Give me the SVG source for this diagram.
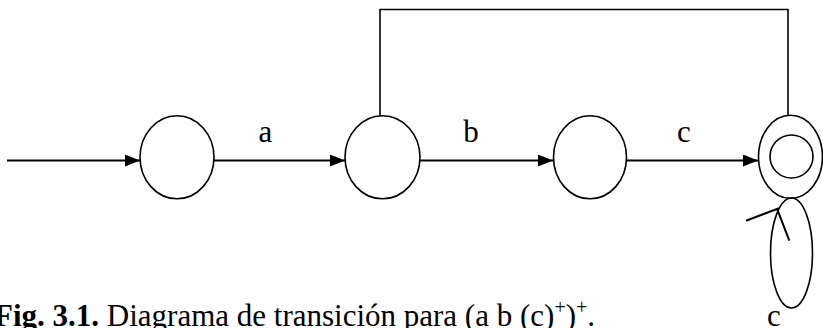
<svg xmlns="http://www.w3.org/2000/svg" width="823" height="328" viewBox="0 0 823 328">
<defs>
<marker id="ah" markerWidth="15" markerHeight="12" refX="15" refY="6" orient="auto" markerUnits="userSpaceOnUse">
<path d="M0,0 L15,6 L0,12 Z" fill="#000"/>
</marker>
<style>
.st{fill:none;stroke:#000;stroke-width:1.6}
.ed{fill:none;stroke:#000;stroke-width:2}
.lb{font-family:"Liberation Serif","Times New Roman",serif;font-size:31px;fill:#000}
</style>
</defs>
<rect width="823" height="328" fill="#fff"/>
<g id="connectors">
<line class="ed" x1="7" y1="160.5" x2="140" y2="160.5" marker-end="url(#ah)"/>
<line class="ed" x1="214" y1="160.5" x2="345" y2="160.5" marker-end="url(#ah)"/>
<line class="ed" x1="420" y1="160.5" x2="553" y2="160.5" marker-end="url(#ah)"/>
<line class="ed" x1="626" y1="160.5" x2="758" y2="160.5" marker-end="url(#ah)"/>
<polyline class="st" points="380,116 380,9.5 788,9.5 788,115"/>
<ellipse class="st" cx="791.5" cy="253" rx="21" ry="55"/>
<polyline class="ed" points="746,220.7 779,208.3"/>
<polyline class="ed" points="777.3,209.3 789.3,240.7"/>
<text class="lb" x="265.5" y="142" text-anchor="middle">a</text>
<text class="lb" x="471" y="142" text-anchor="middle">b</text>
<text class="lb" x="684" y="142" text-anchor="middle">c</text>
<text class="lb" x="774" y="326" text-anchor="middle">c</text>
</g>
<g id="s0"><ellipse class="st" cx="177" cy="157.3" rx="37" ry="41.5"/></g>
<g id="s1"><ellipse class="st" cx="382.5" cy="157.3" rx="37.5" ry="41.5"/></g>
<g id="s2"><ellipse class="st" cx="590" cy="157.3" rx="36.5" ry="41.5"/></g>
<g id="s3">
<ellipse class="st" cx="790.5" cy="156.8" rx="32" ry="41.5"/>
<circle class="st" cx="791.5" cy="156.5" r="21.5"/>
</g>
<g id="caption">
<text class="lb" x="-6" y="326"><tspan font-weight="bold">Fig. 3.1.</tspan> Diagrama de transición para (a b (c)<tspan font-size="20" dy="-12">+</tspan><tspan dy="12">)</tspan><tspan font-size="20" dy="-12">+</tspan><tspan dy="12">.</tspan></text>
</g>
</svg>
